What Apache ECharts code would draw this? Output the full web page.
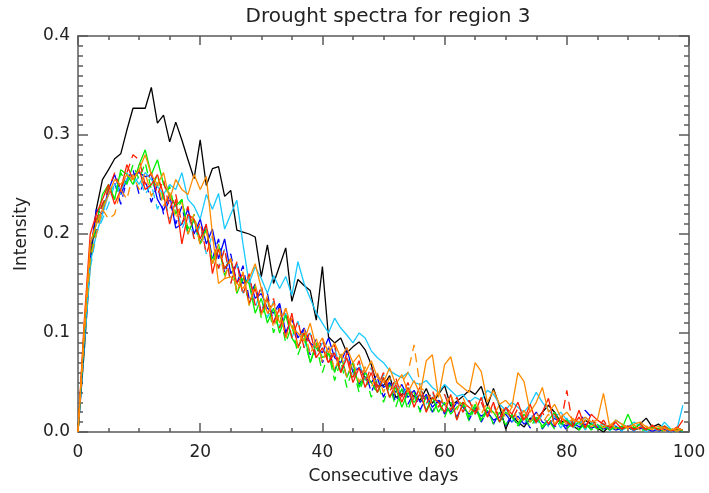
<!DOCTYPE html>
<html>
<head>
<meta charset="utf-8">
<script src="https://cdn.jsdelivr.net/npm/echarts@6/dist/echarts.min.js"></script>
<style>
html,body{margin:0;padding:0;background:#fff;}
#chart{width:709px;height:493px;}
</style>
</head>
<body>
<div id="chart"></div>
<script>
// ---- data (days 0..99) ----
const titleText = 'Drought spectra for region 3';
const xName = 'Consecutive days';
const yName = 'Intensity';
const xTicks = [0, 20, 40, 60, 80, 100];
const yTicks = ['0.0', '0.1', '0.2', '0.3', '0.4'];

const black = [
 0, 0.08, 0.17, 0.225, 0.255, 0.265, 0.276, 0.281, 0.305, 0.327,
 0.327, 0.327, 0.348, 0.312, 0.32, 0.293, 0.313, 0.295, 0.275, 0.256,
 0.295, 0.249, 0.266, 0.268, 0.238, 0.244, 0.204, 0.202, 0.2, 0.197,
 0.157, 0.189, 0.15, 0.168, 0.186, 0.132, 0.154, 0.148, 0.143, 0.113,
 0.167, 0.096, 0.09, 0.095, 0.08, 0.086, 0.091, 0.083, 0.068, 0.046,
 0.047, 0.057, 0.035, 0.038, 0.042, 0.036, 0.032, 0.044, 0.029, 0.038,
 0.047, 0.026, 0.031, 0.036, 0.042, 0.038, 0.046, 0.026, 0.044, 0.026,
 0.003, 0.017, 0.01, 0.005, 0.014, 0.012, 0.02, 0.027, 0.02, 0.01,
 0.012, 0.006, 0.002, 0.012, 0.008, 0.004, 0.0, 0.006, 0.004, 0.002,
 0.006, 0.003, 0.008, 0.014, 0.005, 0.008, 0.003, 0.0, 0.004, 0.002
];
const blueA = [
 0, 0.1, 0.18, 0.225, 0.22, 0.245, 0.26, 0.24, 0.255, 0.26,
 0.262, 0.258, 0.26, 0.235, 0.224, 0.24, 0.206, 0.21, 0.225, 0.2,
 0.215, 0.19, 0.205, 0.175, 0.195, 0.16, 0.17, 0.15, 0.155, 0.135,
 0.14, 0.125, 0.12, 0.13, 0.1, 0.115, 0.095, 0.105, 0.09, 0.085,
 0.08, 0.095, 0.075, 0.07, 0.085, 0.06, 0.065, 0.055, 0.05, 0.058,
 0.045, 0.05, 0.04, 0.048, 0.035, 0.042, 0.03, 0.038, 0.025, 0.032,
 0.028, 0.02, 0.03, 0.025, 0.018, 0.022, 0.016, 0.02, 0.012, 0.015,
 0.018, 0.01, 0.016, 0.008, 0.012, 0.02, 0.01, 0.007, 0.014, 0.009,
 0.006, 0.01, 0.005, 0.008, 0.004, 0.006, 0.003, 0.005, 0.002, 0.004,
 0.005, 0.002, 0.004, 0.003, 0.001, 0.003, 0.002, 0.001, 0.002, 0.001
];
const blueB = [
 0, 0.09, 0.17, 0.205, 0.23, 0.24, 0.252, 0.23, 0.255, 0.265,
 0.24, 0.255, 0.232, 0.25, 0.22, 0.235, 0.21, 0.228, 0.2, 0.215,
 0.19, 0.21, 0.175, 0.195, 0.16, 0.18, 0.15, 0.168, 0.135, 0.15,
 0.12, 0.14, 0.11, 0.128, 0.1, 0.115, 0.085, 0.105, 0.078, 0.095,
 0.07, 0.085, 0.062, 0.078, 0.055, 0.07, 0.048, 0.062, 0.04, 0.055,
 0.035, 0.05, 0.03, 0.045, 0.028, 0.04, 0.022, 0.036, 0.02, 0.032,
 0.018, 0.03, 0.015, 0.028, 0.012, 0.025, 0.01, 0.022, 0.008, 0.02,
 0.006, 0.018, 0.005, 0.015, 0.004, 0.014, 0.003, 0.012, 0.005, 0.01,
 0.002, 0.009, 0.004, 0.022, 0.015, 0.004, 0.008, 0.002, 0.006, 0.001,
 0.005, 0.001, 0.004, 0.002, 0.005, 0.001, 0.003, 0.001, 0.002, 0.001
];
const cyanA = [
 0, 0.09, 0.17, 0.2, 0.22, 0.24, 0.25, 0.245, 0.255, 0.26,
 0.25, 0.262, 0.255, 0.248, 0.24, 0.25, 0.245, 0.262, 0.235, 0.228,
 0.215, 0.24, 0.225, 0.241, 0.205, 0.22, 0.234, 0.19, 0.15, 0.167,
 0.155, 0.14, 0.158, 0.145, 0.157, 0.138, 0.172, 0.15, 0.135, 0.12,
 0.11, 0.1, 0.115, 0.105, 0.098, 0.09, 0.1, 0.095, 0.082, 0.075,
 0.07, 0.062, 0.058, 0.055, 0.06, 0.05, 0.048, 0.052, 0.045, 0.04,
 0.048, 0.042, 0.036, 0.038, 0.03, 0.035, 0.032, 0.042, 0.038, 0.028,
 0.022, 0.03, 0.025, 0.02, 0.028, 0.04, 0.03, 0.022, 0.015, 0.02,
 0.012, 0.01, 0.008, 0.015, 0.01, 0.006, 0.008, 0.004, 0.012, 0.008,
 0.005, 0.01, 0.006, 0.003, 0.004, 0.002, 0.01, 0.003, 0.002, 0.027
];
const cyanB = [
 0, 0.085, 0.165, 0.2, 0.215, 0.23, 0.25, 0.24, 0.262, 0.25,
 0.258, 0.24, 0.25, 0.225, 0.24, 0.215, 0.23, 0.205, 0.22, 0.195,
 0.208, 0.18, 0.2, 0.165, 0.185, 0.15, 0.17, 0.14, 0.158, 0.125,
 0.145, 0.115, 0.132, 0.105, 0.12, 0.095, 0.112, 0.085, 0.1, 0.078,
 0.09, 0.07, 0.085, 0.062, 0.078, 0.058, 0.07, 0.052, 0.065, 0.045,
 0.058, 0.04, 0.052, 0.035, 0.048, 0.032, 0.045, 0.028, 0.04, 0.025,
 0.038, 0.022, 0.035, 0.02, 0.032, 0.018, 0.03, 0.015, 0.027, 0.012,
 0.025, 0.01, 0.022, 0.008, 0.02, 0.006, 0.018, 0.005, 0.016, 0.004,
 0.014, 0.003, 0.012, 0.002, 0.01, 0.002, 0.009, 0.001, 0.008, 0.001,
 0.007, 0.001, 0.006, 0.0, 0.005, 0.001, 0.004, 0.0, 0.003, 0.001
];
const greenA = [
 0, 0.1, 0.19, 0.21, 0.24, 0.25, 0.235, 0.265, 0.26, 0.25,
 0.27, 0.285, 0.26, 0.275, 0.25, 0.24, 0.228, 0.235, 0.2, 0.215,
 0.19, 0.205, 0.17, 0.185, 0.165, 0.175, 0.14, 0.155, 0.15, 0.12,
 0.135, 0.11, 0.125, 0.1, 0.118, 0.095, 0.085, 0.1, 0.07, 0.09,
 0.075, 0.08, 0.06, 0.078, 0.055, 0.07, 0.045, 0.06, 0.05, 0.04,
 0.055, 0.035, 0.045, 0.025, 0.04, 0.03, 0.038, 0.022, 0.035, 0.02,
 0.03, 0.018, 0.025, 0.03, 0.015, 0.028, 0.012, 0.025, 0.02, 0.01,
 0.02, 0.015, 0.008, 0.018, 0.01, 0.015, 0.006, 0.012, 0.02, 0.008,
 0.012, 0.005, 0.01, 0.004, 0.008, 0.003, 0.006, 0.002, 0.005, 0.003,
 0.018, 0.004, 0.008, 0.002, 0.005, 0.003, 0.006, 0.002, 0.003, 0.001
];
const greenB = [
 0, 0.095, 0.175, 0.21, 0.225, 0.248, 0.235, 0.262, 0.25, 0.27,
 0.255, 0.272, 0.245, 0.26, 0.235, 0.248, 0.22, 0.235, 0.205, 0.22,
 0.19, 0.205, 0.172, 0.19, 0.158, 0.175, 0.142, 0.16, 0.128, 0.148,
 0.115, 0.135, 0.1, 0.12, 0.09, 0.108, 0.078, 0.095, 0.07, 0.088,
 0.06, 0.08, 0.052, 0.072, 0.045, 0.065, 0.04, 0.058, 0.035, 0.052,
 0.03, 0.048, 0.025, 0.044, 0.022, 0.04, 0.02, 0.036, 0.018, 0.032,
 0.015, 0.03, 0.013, 0.028, 0.011, 0.025, 0.01, 0.022, 0.008, 0.02,
 0.007, 0.018, 0.006, 0.016, 0.005, 0.014, 0.004, 0.012, 0.003, 0.011,
 0.003, 0.01, 0.002, 0.009, 0.002, 0.008, 0.001, 0.007, 0.001, 0.006,
 0.001, 0.005, 0.0, 0.004, 0.001, 0.004, 0.0, 0.003, 0.001, 0.002
];
const redA = [
 0, 0.11, 0.2, 0.22, 0.235, 0.25, 0.23, 0.245, 0.27, 0.255,
 0.265, 0.245, 0.25, 0.26, 0.24, 0.21, 0.235, 0.19, 0.22, 0.215,
 0.195, 0.21, 0.16, 0.185, 0.165, 0.175, 0.15, 0.16, 0.13, 0.145,
 0.12, 0.135, 0.11, 0.125, 0.095, 0.12, 0.085, 0.1, 0.09, 0.075,
 0.085, 0.07, 0.08, 0.06, 0.075, 0.05, 0.065, 0.045, 0.06, 0.04,
 0.055, 0.035, 0.048, 0.03, 0.045, 0.025, 0.04, 0.02, 0.035, 0.03,
 0.02, 0.038, 0.012, 0.03, 0.025, 0.02, 0.035, 0.015, 0.03, 0.01,
 0.025, 0.018, 0.03, 0.012, 0.028, 0.01, 0.02, 0.034, 0.006, 0.015,
 0.01, 0.005, 0.022, 0.004, 0.018, 0.012, 0.008, 0.005, 0.01, 0.003,
 0.006, 0.002, 0.005, 0.003, 0.006, 0.002, 0.004, 0.001, 0.003, 0.012
];
const redB = [
 0, 0.1, 0.185, 0.215, 0.23, 0.245, 0.262, 0.245, 0.262, 0.28,
 0.275, 0.25, 0.262, 0.24, 0.255, 0.225, 0.24, 0.21, 0.228, 0.195,
 0.212, 0.18, 0.198, 0.165, 0.185, 0.15, 0.172, 0.138, 0.16, 0.128,
 0.148, 0.118, 0.135, 0.105, 0.125, 0.095, 0.112, 0.085, 0.102, 0.075,
 0.095, 0.068, 0.088, 0.06, 0.08, 0.055, 0.072, 0.05, 0.066, 0.045,
 0.06, 0.04, 0.055, 0.035, 0.05, 0.032, 0.046, 0.028, 0.042, 0.025,
 0.038, 0.022, 0.035, 0.02, 0.032, 0.018, 0.03, 0.016, 0.028, 0.014,
 0.026, 0.012, 0.024, 0.01, 0.022, 0.009, 0.02, 0.008, 0.018, 0.007,
 0.042, 0.006, 0.015, 0.005, 0.014, 0.004, 0.012, 0.003, 0.01, 0.003,
 0.009, 0.002, 0.008, 0.002, 0.007, 0.001, 0.006, 0.001, 0.005, 0.001
];
const orangeA = [
 0, 0.105, 0.19, 0.21, 0.225, 0.24, 0.255, 0.25, 0.26, 0.255,
 0.265, 0.28, 0.26, 0.25, 0.262, 0.235, 0.255, 0.245, 0.24, 0.26,
 0.245, 0.258, 0.2, 0.15, 0.155, 0.157, 0.15, 0.145, 0.155, 0.17,
 0.145, 0.12, 0.13, 0.11, 0.125, 0.105, 0.1, 0.092, 0.11, 0.085,
 0.095, 0.08, 0.09, 0.075, 0.085, 0.07, 0.078, 0.06, 0.072, 0.055,
 0.05, 0.065, 0.048, 0.058, 0.04, 0.052, 0.038, 0.072, 0.078, 0.035,
 0.068, 0.076, 0.05, 0.045, 0.04, 0.07, 0.061, 0.03, 0.042, 0.028,
 0.032, 0.025, 0.06, 0.051, 0.02, 0.03, 0.045, 0.02, 0.028, 0.015,
 0.02, 0.012, 0.01, 0.015, 0.01, 0.012, 0.039, 0.006, 0.012, 0.008,
 0.004, 0.008, 0.01, 0.005, 0.003, 0.006, 0.004, 0.002, 0.004, 0.002
];
const orangeB = [
 0, 0.095, 0.175, 0.2, 0.225, 0.215, 0.22, 0.245, 0.235, 0.26,
 0.245, 0.262, 0.238, 0.252, 0.228, 0.242, 0.215, 0.232, 0.2, 0.22,
 0.188, 0.205, 0.17, 0.19, 0.155, 0.175, 0.14, 0.162, 0.128, 0.15,
 0.118, 0.138, 0.105, 0.125, 0.095, 0.115, 0.085, 0.105, 0.078, 0.095,
 0.07, 0.088, 0.062, 0.08, 0.055, 0.072, 0.05, 0.066, 0.045, 0.06,
 0.04, 0.055, 0.036, 0.05, 0.06, 0.088, 0.045, 0.04, 0.028, 0.042,
 0.025, 0.038, 0.022, 0.035, 0.02, 0.032, 0.018, 0.03, 0.016, 0.028,
 0.014, 0.025, 0.012, 0.022, 0.01, 0.02, 0.009, 0.018, 0.008, 0.016,
 0.007, 0.014, 0.006, 0.012, 0.005, 0.011, 0.004, 0.01, 0.003, 0.008,
 0.003, 0.007, 0.002, 0.006, 0.002, 0.005, 0.001, 0.004, 0.001, 0.003
];

const seriesDefs = [
  {name: 'obs',      data: black,   color: '#000000', dashed: false},
  {name: 'blue a',   data: blueA,   color: '#0000ff', dashed: false},
  {name: 'blue b',   data: blueB,   color: '#0000ff', dashed: true},
  {name: 'cyan a',   data: cyanA,   color: '#18c8ff', dashed: false},
  {name: 'cyan b',   data: cyanB,   color: '#18c8ff', dashed: true},
  {name: 'green a',  data: greenA,  color: '#00ee00', dashed: false},
  {name: 'green b',  data: greenB,  color: '#00ee00', dashed: true},
  {name: 'red a',    data: redA,    color: '#ff2000', dashed: false},
  {name: 'red b',    data: redB,    color: '#ff2000', dashed: true},
  {name: 'orange a', data: orangeA, color: '#ff8c00', dashed: false},
  {name: 'orange b', data: orangeB, color: '#ff8c00', dashed: true}
];

const FONT = 'DejaVu Sans';
const AX = '#5a5a5a';

function makeX(pos, showLabels) {
  return {
    type: 'value', position: pos, min: 0, max: 100, interval: 20,
    name: showLabels ? xName : '', nameLocation: 'middle', nameGap: 36,
    nameTextStyle: {fontFamily: FONT, fontSize: 17, color: '#222'},
    axisLine: {show: true, onZero: false, lineStyle: {color: AX, width: 1.5}},
    axisTick: {show: true, inside: true, length: 9, lineStyle: {color: AX, width: 1.5}},
    minorTick: {show: true, splitNumber: 4, length: 4, lineStyle: {color: AX, width: 1.5}},
    splitLine: {show: false}, minorSplitLine: {show: false},
    axisLabel: {show: showLabels, margin: 12, fontFamily: FONT, fontSize: 17, color: '#222',
      formatter: v => xTicks.includes(v) ? String(v) : ''}
  };
}
function makeY(pos, showLabels) {
  return {
    type: 'value', position: pos, min: 0, max: 0.4, interval: 0.1,
    name: showLabels ? yName : '', nameLocation: 'middle', nameGap: 48, nameRotate: 90,
    nameTextStyle: {fontFamily: FONT, fontSize: 17, color: '#222'},
    axisLine: {show: true, onZero: false, lineStyle: {color: AX, width: 1.5}},
    axisTick: {show: true, inside: true, length: 10, lineStyle: {color: AX, width: 1.5}},
    minorTick: {show: true, splitNumber: 10, length: 5, lineStyle: {color: AX, width: 1.5}},
    splitLine: {show: false}, minorSplitLine: {show: false},
    axisLabel: {show: showLabels, margin: 8, fontFamily: FONT, fontSize: 17, color: '#222',
      formatter: v => yTicks[Math.round(v * 10)]}
  };
}

const chart = echarts.init(document.getElementById('chart'), null, {renderer: 'canvas'});
chart.setOption({
  animation: false,
  backgroundColor: '#ffffff',
  title: {
    text: titleText, left: 383, top: 2, textAlign: 'center',
    textStyle: {fontFamily: FONT, fontSize: 20, fontWeight: 'normal', color: '#222'}
  },
  grid: {left: 78, right: 20, top: 36, bottom: 61, containLabel: false},
  xAxis: [makeX('bottom', true), makeX('top', false)],
  yAxis: [makeY('left', true), makeY('right', false)],
  series: seriesDefs.map(s => ({
    name: s.name, type: 'line', xAxisIndex: 0, yAxisIndex: 0,
    showSymbol: false, symbol: 'none', silent: true,
    data: s.data.map((v, i) => [i, v]),
    lineStyle: {color: s.color, width: 1.3, type: s.dashed ? [9, 6] : 'solid'},
    itemStyle: {color: s.color}
  }))
});
</script>
</body>
</html>
